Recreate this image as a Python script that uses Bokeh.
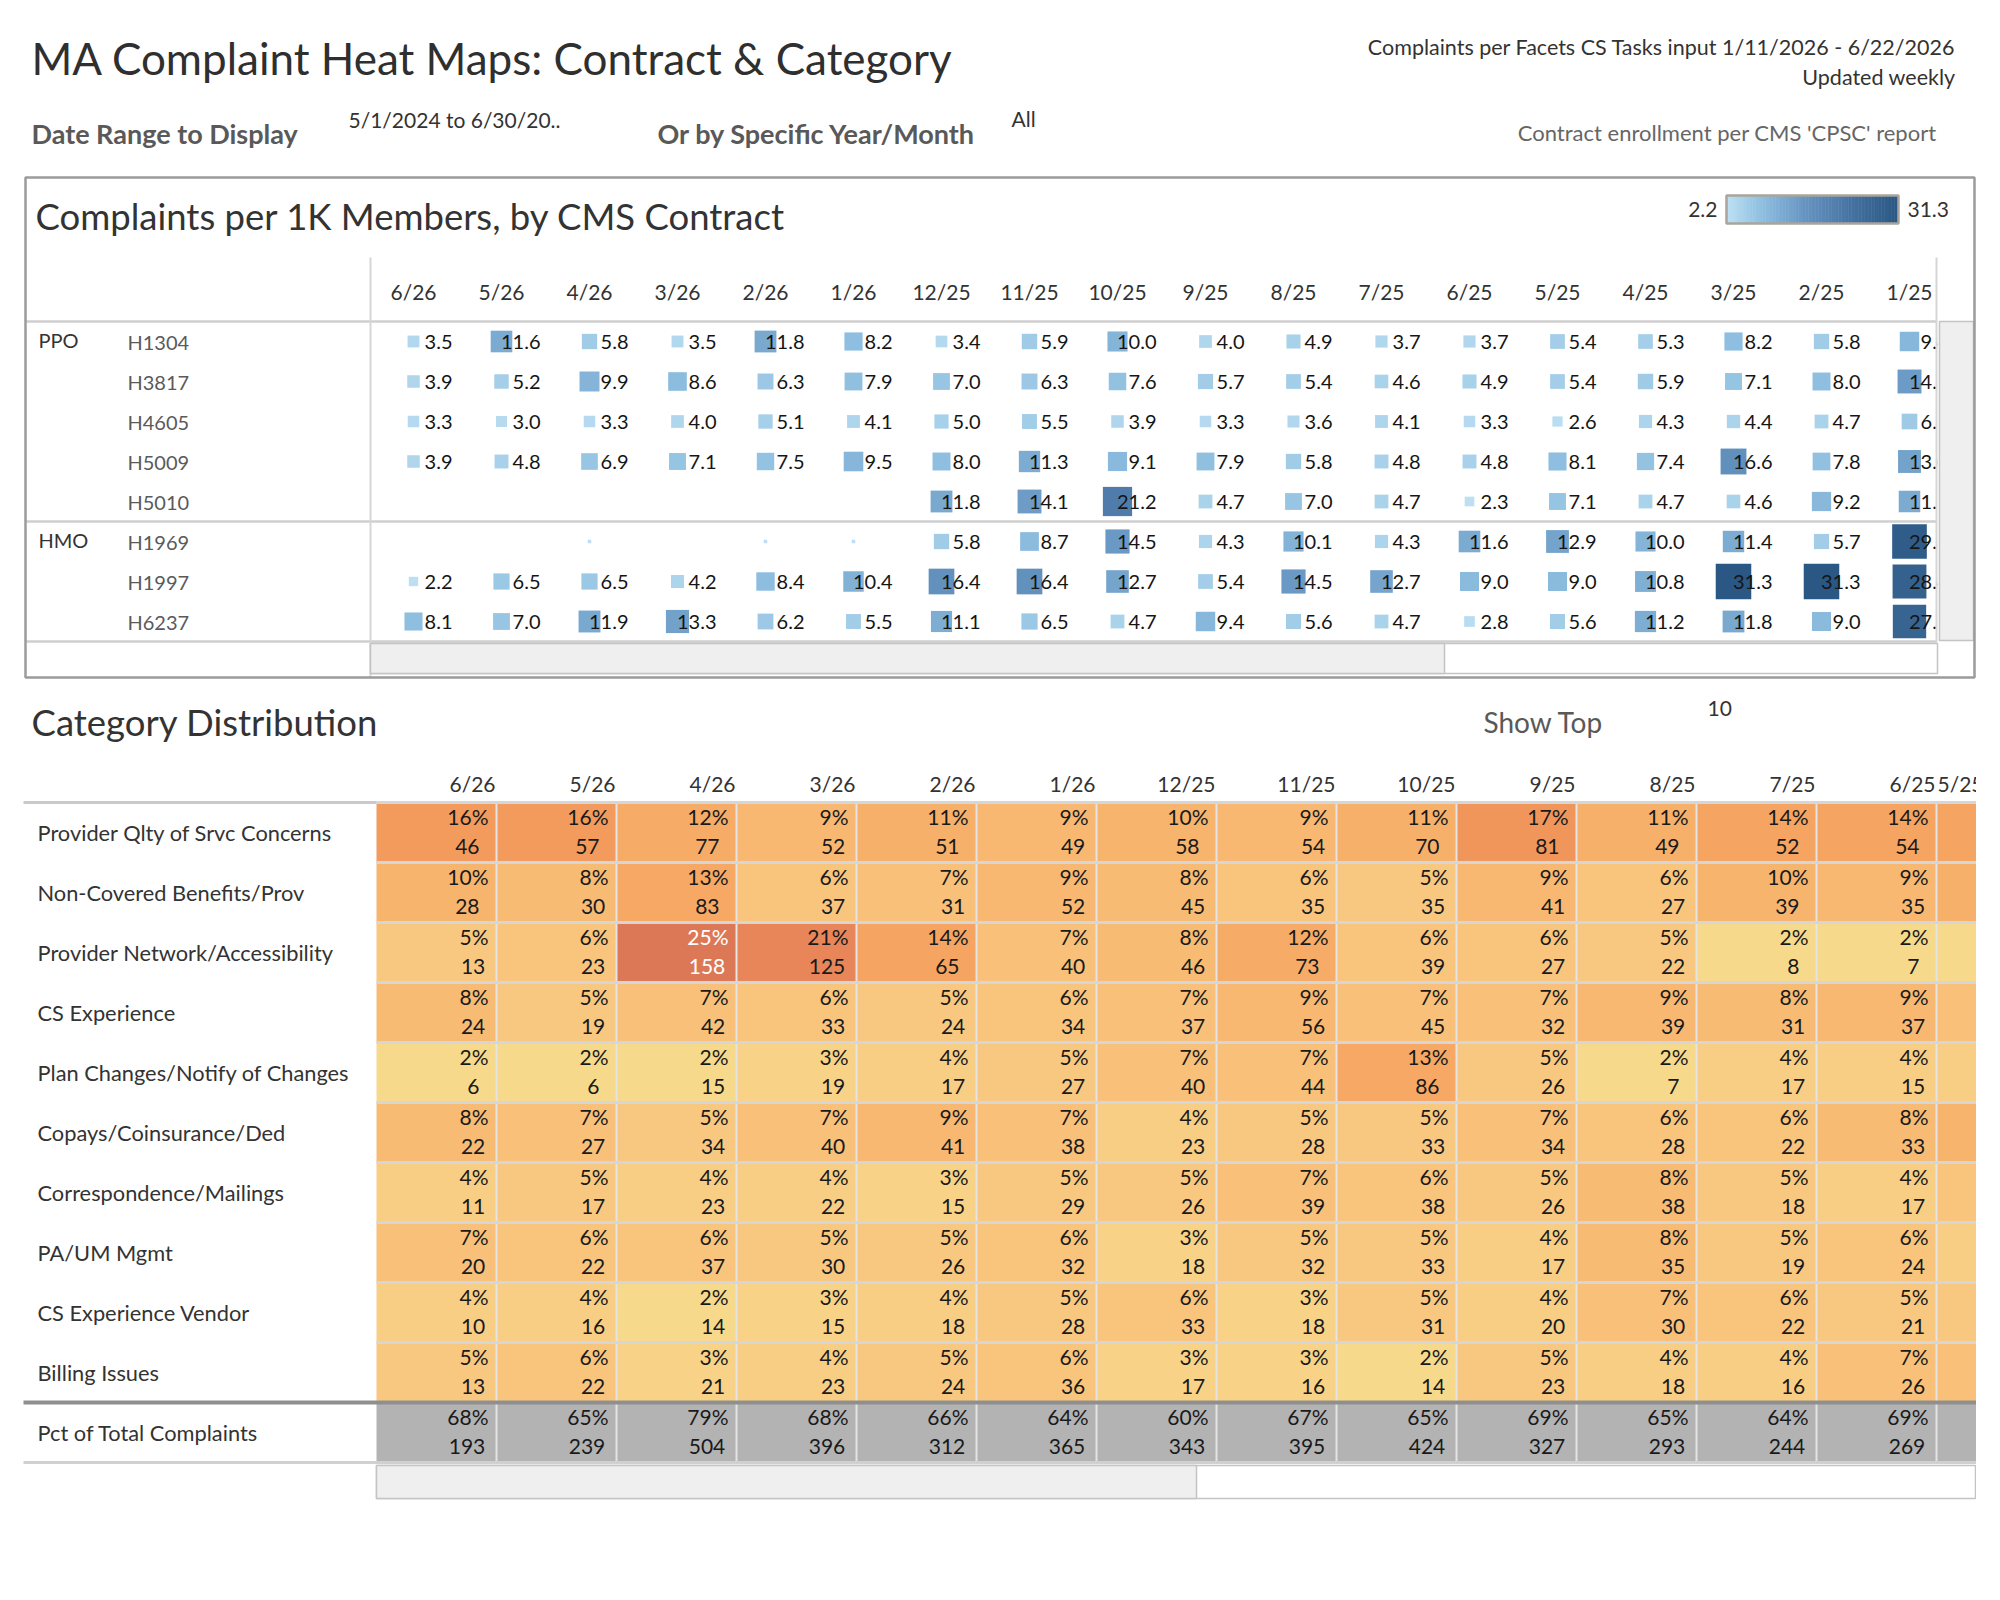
import numpy as np
from bokeh.plotting import figure
from bokeh.models import Range1d, LinearColorMapper, ColumnDataSource, CDSView, IndexFilter
from bokeh.transform import transform
from bokeh.core.properties import value
from bokeh.embed import file_html
from bokeh.resources import INLINE

# ---------------- data: complaints per 1K members by CMS contract ----------------
contract_months = ["6/26", "5/26", "4/26", "3/26", "2/26", "1/26", "12/25", "11/25", "10/25",
                   "9/25", "8/25", "7/25", "6/25", "5/25", "4/25", "3/25", "2/25", "1/25"]
contracts = ["H1304", "H3817", "H4605", "H5009", "H5010", "H1969", "H1997", "H6237"]
contract_types = ["PPO", "PPO", "PPO", "PPO", "PPO", "HMO", "HMO", "HMO"]
rate_h1304 = [3.5, 11.6, 5.8, 3.5, 11.8, 8.2, 3.4, 5.9, 10.0, 4.0, 4.9, 3.7, 3.7, 5.4, 5.3, 8.2, 5.8, 9.4]
rate_h3817 = [3.9, 5.2, 9.9, 8.6, 6.3, 7.9, 7.0, 6.3, 7.6, 5.7, 5.4, 4.6, 4.9, 5.4, 5.9, 7.1, 8.0, 14.2]
rate_h4605 = [3.3, 3.0, 3.3, 4.0, 5.1, 4.1, 5.0, 5.5, 3.9, 3.3, 3.6, 4.1, 3.3, 2.6, 4.3, 4.4, 4.7, 6.1]
rate_h5009 = [3.9, 4.8, 6.9, 7.1, 7.5, 9.5, 8.0, 11.3, 9.1, 7.9, 5.8, 4.8, 4.8, 8.1, 7.4, 16.6, 7.8, 13.0]
rate_h5010 = [None, None, None, None, None, None, 11.8, 14.1, 21.2, 4.7, 7.0, 4.7, 2.3, 7.1, 4.7, 4.6, 9.2, 11.5]
rate_h1969 = [None, None, 0.3, None, 0.3, 0.3, 5.8, 8.7, 14.5, 4.3, 10.1, 4.3, 11.6, 12.9, 10.0, 11.4, 5.7, 29.8]
rate_h1997 = [2.2, 6.5, 6.5, 4.2, 8.4, 10.4, 16.4, 16.4, 12.7, 5.4, 14.5, 12.7, 9.0, 9.0, 10.8, 31.3, 31.3, 28.4]
rate_h6237 = [8.1, 7.0, 11.9, 13.3, 6.2, 5.5, 11.1, 6.5, 4.7, 9.4, 5.6, 4.7, 2.8, 5.6, 11.2, 11.8, 9.0, 27.6]
rates = [rate_h1304, rate_h3817, rate_h4605, rate_h5009, rate_h5010, rate_h1969, rate_h1997, rate_h6237]
rate_min, rate_max = 2.2, 31.3

# ---------------- data: category distribution ----------------
cat_months = ["6/26", "5/26", "4/26", "3/26", "2/26", "1/26", "12/25", "11/25", "10/25",
              "9/25", "8/25", "7/25", "6/25", "5/25"]
categories = ["Provider Qlty of Srvc Concerns", "Non-Covered Benefits/Prov", "Provider Network/Accessibility",
              "CS Experience", "Plan Changes/Notify of Changes", "Copays/Coinsurance/Ded",
              "Correspondence/Mailings", "PA/UM Mgmt", "CS Experience Vendor", "Billing Issues"]
pct_provider_qlty = [16, 16, 12, 9, 11, 9, 10, 9, 11, 17, 11, 14, 14, 14]
cnt_provider_qlty = [46, 57, 77, 52, 51, 49, 58, 54, 70, 81, 49, 52, 54, 50]
pct_non_covered = [10, 8, 13, 6, 7, 9, 8, 6, 5, 9, 6, 10, 9, 11]
cnt_non_covered = [28, 30, 83, 37, 31, 52, 45, 35, 35, 41, 27, 39, 35, 40]
pct_network = [5, 6, 25, 21, 14, 7, 8, 12, 6, 6, 5, 2, 2, 2]
cnt_network = [13, 23, 158, 125, 65, 40, 46, 73, 39, 27, 22, 8, 7, 8]
pct_cs_exp = [8, 5, 7, 6, 5, 6, 7, 9, 7, 7, 9, 8, 9, 7]
cnt_cs_exp = [24, 19, 42, 33, 24, 34, 37, 56, 45, 32, 39, 31, 37, 28]
pct_plan_changes = [2, 2, 2, 3, 4, 5, 7, 7, 13, 5, 2, 4, 4, 4]
cnt_plan_changes = [6, 6, 15, 19, 17, 27, 40, 44, 86, 26, 7, 17, 15, 15]
pct_copays = [8, 7, 5, 7, 9, 7, 4, 5, 5, 7, 6, 6, 8, 10]
cnt_copays = [22, 27, 34, 40, 41, 38, 23, 28, 33, 34, 28, 22, 33, 38]
pct_mailings = [4, 5, 4, 4, 3, 5, 5, 7, 6, 5, 8, 5, 4, 6]
cnt_mailings = [11, 17, 23, 22, 15, 29, 26, 39, 38, 26, 38, 18, 17, 22]
pct_pa_um = [7, 6, 6, 5, 5, 6, 3, 5, 5, 4, 8, 5, 6, 4]
cnt_pa_um = [20, 22, 37, 30, 26, 32, 18, 32, 33, 17, 35, 19, 24, 16]
pct_cs_vendor = [4, 4, 2, 3, 4, 5, 6, 3, 5, 4, 7, 6, 5, 5]
cnt_cs_vendor = [10, 16, 14, 15, 18, 28, 33, 18, 31, 20, 30, 22, 21, 19]
pct_billing = [5, 6, 3, 4, 5, 6, 3, 3, 2, 5, 4, 4, 7, 7]
cnt_billing = [13, 22, 21, 23, 24, 36, 17, 16, 14, 23, 18, 16, 26, 26]
pct_total = [68, 65, 79, 68, 66, 64, 60, 67, 65, 69, 65, 64, 69, 70]
cnt_total = [193, 239, 504, 396, 312, 365, 343, 395, 424, 327, 293, 244, 269, 263]
cat_pcts = [pct_provider_qlty, pct_non_covered, pct_network, pct_cs_exp, pct_plan_changes,
            pct_copays, pct_mailings, pct_pa_um, pct_cs_vendor, pct_billing]
cat_cnts = [cnt_provider_qlty, cnt_non_covered, cnt_network, cnt_cs_exp, cnt_plan_changes,
            cnt_copays, cnt_mailings, cnt_pa_um, cnt_cs_vendor, cnt_billing]
total_label = "Pct of Total Complaints"

# ---------------- styling helpers ----------------
FONT = "Lato"
DARK = "#333333"
GREY = "#595959"


def lerp_palette(stops, n=256):
    pos = np.array([s[0] for s in stops], float)
    cols = np.array([[int(s[1][i:i + 2], 16) for i in (1, 3, 5)] for s in stops], float)
    out = []
    for t in np.linspace(0, 1, n):
        r, g, b = (np.interp(t, pos, cols[:, k]) for k in range(3))
        out.append("#%02x%02x%02x" % (int(round(r)), int(round(g)), int(round(b))))
    return out


blue_pal = lerp_palette([(0, "#bcdff3"), (0.2, "#8fbfe0"), (0.45, "#6795c2"), (0.75, "#44709f"), (1.0, "#2a5783")])
blue_mapper = LinearColorMapper(palette=blue_pal, low=rate_min, high=rate_max, low_color=blue_pal[0])
org_stops = [(2, "#f7d98b"), (5, "#f9c880"), (8, "#f8bb74"), (11, "#f7b06a"), (14, "#f5a461"),
             (17, "#f1965a"), (21, "#e8865a"), (25, "#dc7856")]
org_pal = lerp_palette([((pc - 2) / 23.0, c) for pc, c in org_stops])
org_mapper = LinearColorMapper(palette=org_pal, low=2, high=25)

# ---------------- canvas ----------------
W, H = 1976, 1520
X0, X1 = 0, W
Y0, Y1 = 0, H

p = figure(width=W, height=H, x_range=Range1d(X0, X1), y_range=Range1d(Y1, Y0),
           min_border=0, toolbar_location=None, output_backend="svg",
           x_axis_location=None, y_axis_location=None)
p.grid.visible = False
p.outline_line_color = None
p.background_fill_color = "white"

# heat-map scales (cell index -> page pixels)
TC_X, TC_W = 369.0, 88.0     # top grid: first column left, column width
TC_Y, TC_H = 321.0, 40.0     # top grid: first row top, row height
BC_X, BC_W = 376.0, 120.0
BC_Y, BC_H = 802.0, 60.0
p.extra_x_ranges = {
    "tx": Range1d((X0 - TC_X) / TC_W, (X1 - TC_X) / TC_W),
    "bx": Range1d((X0 - BC_X) / BC_W, (X1 - BC_X) / BC_W),
}
p.extra_y_ranges = {
    "ty": Range1d((Y1 - TC_Y) / TC_H, (Y0 - TC_Y) / TC_H),
    "by": Range1d((Y1 - BC_Y) / BC_H, (Y0 - BC_Y) / BC_H),
}


def txt(x, y, s, size, color=DARK, align="left", baseline="middle", style="normal", **kw):
    p.text(x=[x], y=[y], text=[s], text_font=value(FONT), text_font_size=value(size),
           text_color=color, text_align=align, text_baseline=baseline, text_font_style=style, **kw)


# ---------------- page header ----------------
txt(31, 57, "MA Complaint Heat Maps: Contract & Category", "44px", "#2f2f2f")
txt(1955, 46, "Complaints per Facets CS Tasks input 1/11/2026 - 6/22/2026", "21.5px", DARK, align="right")
txt(1955, 76, "Updated weekly", "21.5px", DARK, align="right")
txt(31, 133, "Date Range to Display", "27px", GREY, style="bold")
txt(348, 119, "5/1/2024 to 6/30/20..", "21px", DARK)
txt(657, 133, "Or by Specific Year/Month", "27px", GREY, style="bold")
txt(1011, 118, "All", "21px", DARK)
txt(1936, 132, "Contract enrollment per CMS 'CPSC' report", "22px", "#666666", align="right")

# ---------------- top panel: contract heat map ----------------
txt(35, 215, "Complaints per 1K Members, by CMS Contract", "36.5px", DARK)

# legend gradient
g_vals = np.linspace(rate_min, rate_max, 120)
g_edges = np.linspace(1726, 1898, 121)
p.quad(left="l", right="r", top=195, bottom=223,
       fill_color=transform("v", blue_mapper), line_color=None,
       source=ColumnDataSource(dict(v=g_vals, l=g_edges[:-1], r=g_edges[1:] + 0.5)))
p.quad(left=[1726], right=[1898], top=[195], bottom=[223], fill_color=None,
       line_color="#a9a59d", line_width=2.5)
txt(1717, 209, f"{rate_min:.1f}", "21px", DARK, align="right")
txt(1907, 209, f"{rate_max:.1f}", "21px", DARK, align="left")

# column headers
p.text(x=[i + 0.5 for i in range(len(contract_months))], y=[-0.75] * len(contract_months),
       text=contract_months, x_range_name="tx", y_range_name="ty",
       text_font=value(FONT), text_font_size=value("21px"), text_color=DARK,
       text_align="center", text_baseline="middle")

# row labels
p.text(x=[127] * len(contracts), y=[r + 0.5 for r in range(len(contracts))], text=contracts,
       y_range_name="ty", text_font=value(FONT), text_font_size=value("20px"), text_color="#5a5a5a",
       text_align="left", text_baseline="middle")
grp_rows = [r for r in range(len(contract_types)) if r == 0 or contract_types[r] != contract_types[r - 1]]
p.text(x=[38] * len(grp_rows), y=[r + 0.45 for r in grp_rows], text=[contract_types[r] for r in grp_rows],
       y_range_name="ty", text_font=value(FONT), text_font_size=value("20px"), text_color=DARK,
       text_align="left", text_baseline="middle")

# marks
tx, ty, tv, tl = [], [], [], []
for r, row in enumerate(rates):
    for i, v in enumerate(row):
        if v is None:
            continue
        tx.append(i + 0.5)
        ty.append(r + 0.5)
        tv.append(v)
        tl.append(f"{v:.1f}" if v >= 1 else "")
tsrc = ColumnDataSource(dict(x=tx, y=ty, v=tv, s=[6.35 * np.sqrt(v) for v in tv], lab=tl))
p.scatter(x="x", y="y", size="s", marker="square", source=tsrc, x_range_name="tx", y_range_name="ty",
          fill_color=transform("v", blue_mapper), line_color=None)
p.text(x="x", y="y", text="lab", source=tsrc, x_range_name="tx", y_range_name="ty", x_offset=39,
       text_font=value(FONT), text_font_size=value("20px"), text_color="#151515",
       text_align="right", text_baseline="middle")

# mask the cut-off edge of the last column and draw scroll bars
p.quad(left=[1937], right=[X1], top=[255], bottom=[645], fill_color="white", line_color=None)
grp_break = [r for r in grp_rows if r > 0]
nl = 2 + len(grp_break)
p.segment(x0=[25] * nl, x1=[1936] * nl,
          y0=[0] + grp_break + [len(contracts)], y1=[0] + grp_break + [len(contracts)],
          y_range_name="ty", line_color="#cfcfcf", line_width=2.5)
p.segment(x0=[370, 1936], x1=[370, 1936], y0=[257, 257], y1=[677, 642], line_color="#d6d6d6", line_width=2)
p.quad(left=[1939], right=[1973], top=[321], bottom=[640], fill_color="#efefef", line_color="#c4c4c4", line_width=1.5)
p.quad(left=[370], right=[1937], top=[643], bottom=[673], fill_color="white", line_color="#c4c4c4", line_width=1.5)
p.quad(left=[370], right=[1444], top=[643], bottom=[673], fill_color="#efefef", line_color="#c4c4c4", line_width=1.5)
p.quad(left=[25], right=[1974], top=[177], bottom=[677], fill_color=None, line_color="#9b9b9b", line_width=2.5)

# ---------------- bottom: category distribution ----------------
txt(31, 721, "Category Distribution", "36.5px", DARK)
txt(1483, 721, "Show Top", "28px", GREY)
txt(1707, 708, "10", "21px", DARK)

ncol = len(cat_months)
visible_cols = (X1 - BC_X) / BC_W
hdr_r = [j for j in range(ncol) if j + 1 <= visible_cols]
hdr_l = [j for j in range(ncol) if j + 1 > visible_cols]
p.text(x=[j + 1 for j in hdr_r], y=[-0.317] * len(hdr_r), text=[cat_months[j] for j in hdr_r],
       x_range_name="bx", y_range_name="by", x_offset=-1, text_font=value(FONT),
       text_font_size=value("21px"), text_color=DARK, text_align="right", text_baseline="middle")
p.text(x=[j for j in hdr_l], y=[-0.317] * len(hdr_l), text=[cat_months[j] for j in hdr_l],
       x_range_name="bx", y_range_name="by", x_offset=1, text_font=value(FONT),
       text_font_size=value("21px"), text_color=DARK, text_align="left", text_baseline="middle")

row_labels = categories + [total_label]
p.text(x=[37] * len(row_labels), y=[r + 0.5 for r in range(len(row_labels))], text=row_labels,
       y_range_name="by", text_font=value(FONT), text_font_size=value("21.8px"), text_color=DARK,
       text_align="left", text_baseline="middle")

DIG, PCTW = 11.5, 18.0
bx_, by_, bp, bc, bpl, bcl, bcol, boff = [], [], [], [], [], [], [], []
for r in range(len(categories) + 1):
    prow = cat_pcts[r] if r < len(categories) else pct_total
    crow = cat_cnts[r] if r < len(categories) else cnt_total
    for j in range(ncol):
        bx_.append(j + 0.5)
        by_.append(r + 0.5)
        bp.append(prow[j])
        bc.append(crow[j])
        ps, cs = f"{prow[j]}%", f"{crow[j]}"
        # only columns whose cell is fully in view carry a label
        shown = j + 1 <= visible_cols
        bpl.append(ps if shown else "")
        bcl.append(cs if shown else "")
        bcol.append("white" if (r < len(categories) and prow[j] >= 24) else "#1a1a1a")
        boff.append(-(8 + ((len(ps) - 1 - len(cs)) * DIG + PCTW) / 2.0))
bsrc = ColumnDataSource(dict(x=bx_, y=by_, pct=bp, cnt=bc, pl=bpl, cl=bcl, tc=bcol, off=boff,
                             xr=[x + 0.5 for x in bx_], yp=[y - 0.26 for y in by_], yc=[y + 0.24 for y in by_]))
ncat = len(categories)
cat_view = list(range(ncat * ncol))
tot_view = list(range(ncat * ncol, (ncat + 1) * ncol))
p.rect(x="x", y="y", width=1, height=1, source=bsrc, view=CDSView(filter=IndexFilter(cat_view)),
       x_range_name="bx", y_range_name="by", fill_color=transform("pct", org_mapper), line_color=None)
p.rect(x="x", y="y", width=1, height=1, source=bsrc, view=CDSView(filter=IndexFilter(tot_view)),
       x_range_name="bx", y_range_name="by", fill_color="#b3b3b3", line_color=None)

# cell separators
p.segment(x0=list(range(1, ncol + 1)), x1=list(range(1, ncol + 1)), y0=[0] * ncol, y1=[ncat + 1] * ncol,
          x_range_name="bx", y_range_name="by", line_color="#e4e4e4", line_width=2)
p.segment(x0=[0] * ncat, x1=[ncol] * ncat, y0=list(range(ncat)), y1=list(range(ncat)),
          x_range_name="bx", y_range_name="by", line_color="#d6d6d6", line_width=3)

p.text(x="xr", y="yp", text="pl", source=bsrc, x_range_name="bx", y_range_name="by", x_offset=-8,
       text_font=value(FONT), text_font_size=value("21px"), text_color="tc",
       text_align="right", text_baseline="middle")
p.text(x="xr", y="yc", text="cl", source=bsrc, x_range_name="bx", y_range_name="by", x_offset="off",
       text_font=value(FONT), text_font_size=value("21px"), text_color="tc",
       text_align="right", text_baseline="middle")

# frame lines and scroll bar
p.segment(x0=[23], x1=[376], y0=[0], y1=[0], y_range_name="by", line_color="#c9c9c9", line_width=3)
p.segment(x0=[23], x1=[X1], y0=[ncat], y1=[ncat], y_range_name="by", line_color="#8f8f8f", line_width=4)
p.segment(x0=[23], x1=[X1], y0=[ncat + 1], y1=[ncat + 1], y_range_name="by", line_color="#d0d0d0", line_width=3)
p.quad(left=[376], right=[1975], top=[1465], bottom=[1498], fill_color="white", line_color="#c4c4c4", line_width=1.5)
p.quad(left=[376], right=[1196], top=[1465], bottom=[1498], fill_color="#efefef", line_color="#c4c4c4", line_width=1.5)

open("out.html", "w").write(file_html(p, INLINE))
